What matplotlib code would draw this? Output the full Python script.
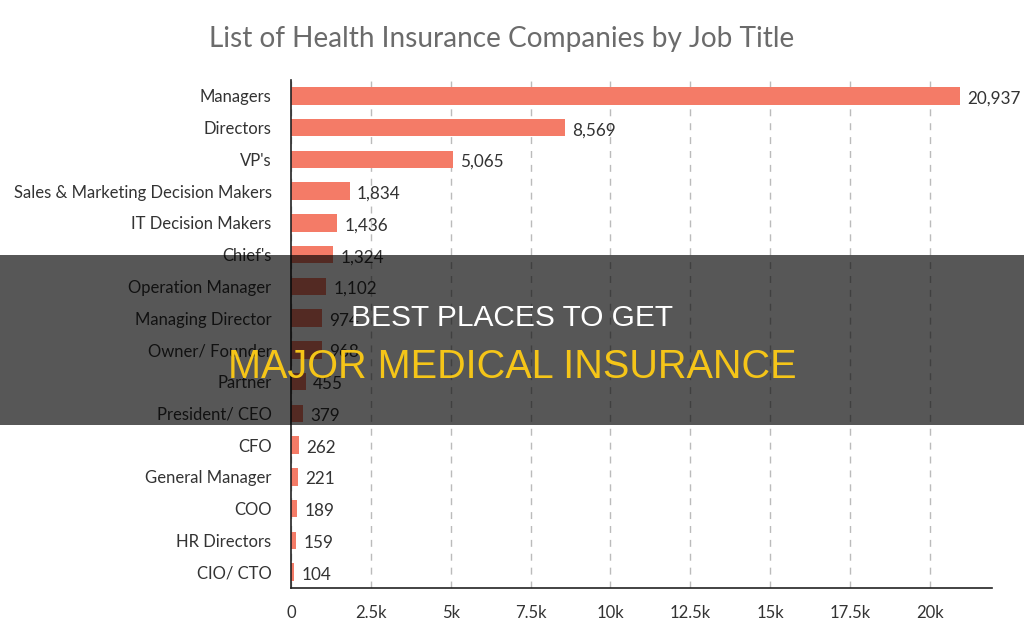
import matplotlib
matplotlib.use("Agg")
import matplotlib.pyplot as plt
from matplotlib.patches import Rectangle

plt.rcParams['font.family'] = ['Lato', 'DejaVu Sans']

job_titles = ["Managers", "Directors", "VP's", "Sales & Marketing Decision Makers",
              "IT Decision Makers", "Chief's", "Operation Manager", "Managing Director",
              "Owner/ Founder", "Partner", "President/ CEO", "CFO", "General Manager",
              "COO", "HR Directors", "CIO/ CTO"]
counts = [20937, 8569, 5065, 1834, 1436, 1324, 1102, 974, 968, 455, 379, 262, 221, 189, 159, 104]
x_ticks = [0, 2500, 5000, 7500, 10000, 12500, 15000, 17500, 20000]
x_tick_labels = ["0", "2.5k", "5k", "7.5k", "10k", "12.5k", "15k", "17.5k", "20k"]

W, H = 1024, 632
fig = plt.figure(figsize=(W / 100, H / 100), dpi=100)
ax = fig.add_axes([291 / W, 1 - 588 / H, (992 - 291) / W, (588 - 80) / H])

y = list(range(len(job_titles)))
ax.barh(y, counts, height=0.55, color="#F47B67", zorder=2)
ax.set_ylim(len(job_titles) - 0.5, -0.5)
ax.set_xlim(0, 21950)
ax.set_yticks(y)
ax.set_yticklabels(job_titles, fontsize=12.0, color="#333333")
ax.set_xticks(x_ticks)
ax.set_xticklabels(x_tick_labels, fontsize=12, color="#333333")
ax.tick_params(axis='y', length=0, pad=14)
ax.tick_params(axis='x', length=0, pad=12)
for s in ["top", "right"]:
    ax.spines[s].set_visible(False)
ax.spines["left"].set_color("#222222")
ax.spines["bottom"].set_color("#222222")
ax.spines["left"].set_linewidth(1.2)
ax.spines["bottom"].set_linewidth(1.2)
ax.grid(axis='x', linestyle=(0, (5, 5)), color="#bbbbbb", linewidth=1, zorder=0)
ax.set_axisbelow(True)

for yi, v in zip(y, counts):
    ax.text(v + 230, yi + 0.08, f"{v:,}", va="center", ha="left", fontsize=12.3, color="#333333")

fig.text(0.49, 1 - 39 / H, "List of Health Insurance Companies by Job Title",
         ha="center", va="center", fontsize=20.2, color="#6b6b6b")

# banner overlay
fig.add_artist(Rectangle((0, 1 - 425 / H), 1, 170 / H, transform=fig.transFigure,
                         facecolor="black", alpha=0.66, edgecolor="none", zorder=10))
fig.text(0.5, 1 - 318 / H, "BEST PLACES TO GET", ha="center", va="center",
         fontsize=21.5, color="white", zorder=11, family=['Liberation Sans', 'DejaVu Sans'])
fig.text(0.5, 1 - 367 / H, "MAJOR MEDICAL INSURANCE", ha="center", va="center",
         fontsize=28.5, color="#F5C518", zorder=11, family=['Liberation Sans', 'DejaVu Sans'])

fig.savefig("out.png", dpi=100)
